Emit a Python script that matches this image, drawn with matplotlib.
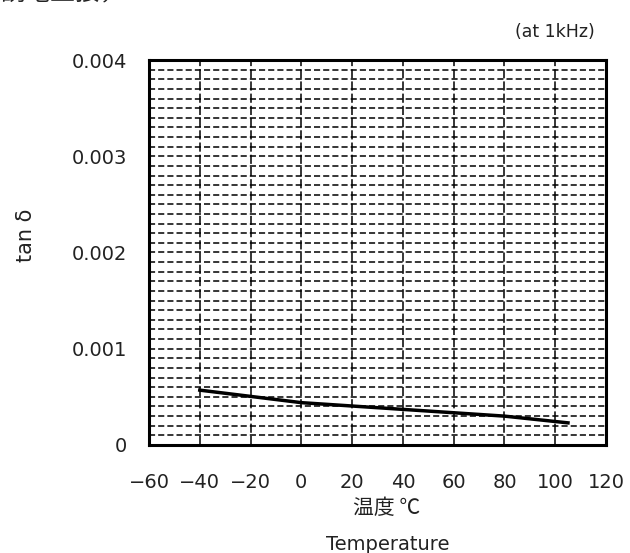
#! /usr/bin/env python3

"""
Dissipation factor (tan delta) versus temperature, at 1 kHz.
"""

import numpy as np
import matplotlib
matplotlib.use("Agg")
import matplotlib.pyplot as plt

plt.rcParams["font.family"] = ["DejaVu Sans", "Noto Sans CJK JP"]

# data
temperature_c = [-40, 0, 40, 80, 105]
tan_delta = [0.00057, 0.00044, 0.00037, 0.00030, 0.00023]

x_ticks = [-60, -40, -20, 0, 20, 40, 60, 80, 100, 120]
y_ticks = [0, 0.001, 0.002, 0.003, 0.004]
y_tick_labels = ["0", "0.001", "0.002", "0.003", "0.004"]

fig = plt.figure(figsize=(6.3, 5.53), dpi=100)
ax = fig.add_axes([0.2365, 0.1953, 0.962 - 0.2365, 0.8915 - 0.1953])

# dense dashed grid
for y in np.arange(1, 40) * 0.0001:
    ax.axhline(y, color="black", lw=1.1, ls=(0, (4, 2)), zorder=1)
for x in x_ticks[1:-1]:
    ax.axvline(x, color="black", lw=1.1, ls=(0, (6, 2)), zorder=1)

ax.plot(temperature_c, tan_delta, color="black", lw=2.5, zorder=3)

ax.set_xlim(-60, 120)
ax.set_ylim(0, 0.004)
ax.set_xticks(x_ticks)
ax.set_xticklabels([str(t).replace("-", "\u2212") for t in x_ticks])
ax.set_yticks(y_ticks)
ax.set_yticklabels(y_tick_labels)
ax.tick_params(length=0, labelsize=14, colors="#222222")
ax.tick_params(axis="x", pad=20)
ax.tick_params(axis="y", pad=16)
for spine in ax.spines.values():
    spine.set_linewidth(2.2)

jp = ["Noto Sans CJK JP", "DejaVu Sans"]
fig.text(0.042, 0.575, "tan δ", rotation=90, ha="center", va="center",
         fontsize=15, color="#222222")
fig.text(0.613, 0.081, "温度 ℃", ha="center", va="center", fontsize=15,
         family=jp, color="#222222")
fig.text(0.616, 0.016, "Temperature", ha="center", va="center", fontsize=14,
         color="#222222")
fig.text(0.88, 0.942, "(at 1kHz)", ha="center", va="center", fontsize=12.5,
         color="#222222")
fig.text(0.0, 0.99, "誘電正接，tanδ", ha="left", va="bottom", fontsize=18,
         family=jp, color="#222222")

fig.savefig("out.png", dpi=100)
